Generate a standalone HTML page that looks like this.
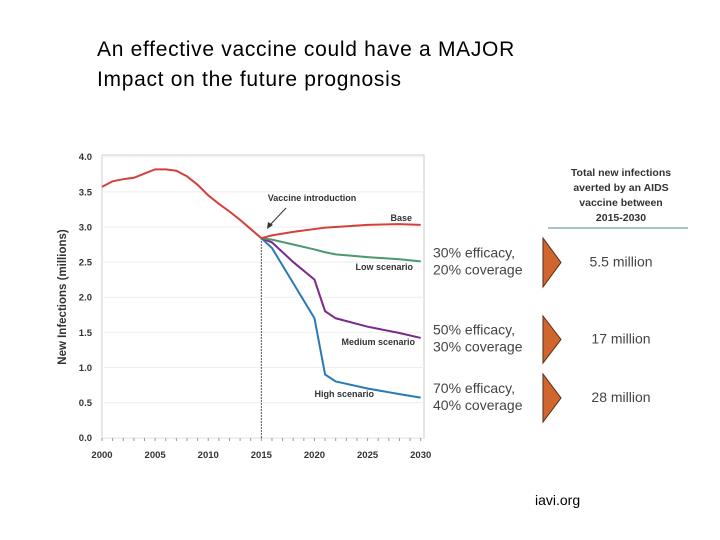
<!DOCTYPE html>
<html><head><meta charset="utf-8"><style>
body{margin:0;width:720px;height:540px;background:#fff;overflow:hidden;font-family:"Liberation Sans",sans-serif}
.t{position:absolute;left:97px;font-size:21px;letter-spacing:0.7px;color:#000;line-height:30px}
</style></head><body>
<div class="t" style="top:35px">An effective vaccine could have a MAJOR<br>Impact on the future prognosis</div>
<svg id="c" width="720" height="540" style="position:absolute;left:0;top:0"></svg>
<div style="position:absolute;left:535px;top:492px;font-size:14px">iavi.org</div>
<script>
const years=[2000,2001,2002,2003,2004,2005,2006,2007,2008,2009,2010,2011,2012,2013,2014,2015];
const hist=[3.57,3.65,3.68,3.70,3.76,3.82,3.82,3.80,3.72,3.60,3.45,3.33,3.22,3.10,2.97,2.84];
const scenYears=[2015,2016,2018,2020,2021,2022,2025,2028,2030];
const base=[2.84,2.88,2.93,2.97,2.99,3.0,3.03,3.04,3.03];
const low=[2.84,2.82,2.75,2.68,2.64,2.61,2.57,2.54,2.51];
const medium=[2.84,2.78,2.5,2.25,1.8,1.7,1.58,1.49,1.42];
const high=[2.84,2.7,2.2,1.7,0.9,0.8,0.7,0.62,0.57];
const yTicks=[0,0.5,1,1.5,2,2.5,3,3.5,4];
const xTicks=[2000,2005,2010,2015,2020,2025,2030];
const NS="http://www.w3.org/2000/svg",svg=document.getElementById('c');
const x=v=>102+(v-2000)*(420.7-102)/30, y=v=>437.7-v*(437.7-156.7)/4;
function mk(t,a,p){const e=document.createElementNS(NS,t);for(const k in a)e.setAttribute(k,a[k]);(p||svg).appendChild(e);return e;}
function tx(s,a){const e=mk('text',a);e.textContent=s;return e;}
mk('rect',{x:102,y:155,width:322,height:283,fill:'none',stroke:'#ccc'});
yTicks.forEach(v=>{
 const g=mk('line',{x1:102,x2:424,y1:y(v),y2:y(v),stroke:'#eee'});
 
 const t=tx(v.toFixed(1),{x:92,y:y(v)+3.5,'font-size':9.5,'font-weight':'bold','text-anchor':'end',fill:'#333'});
 
});
for(let yr=2000;yr<=2030;yr++)mk('line',{x1:x(yr),x2:x(yr),y1:438,y2:441,stroke:'#999'});
xTicks.forEach(v=>{const t=tx(String(v),{x:x(v),y:458,'font-size':9.5,'font-weight':'bold','text-anchor':'middle',fill:'#333'});
 });
const yt=tx('New Infections (millions)',{x:0,y:0,'font-size':11.5,'font-weight':'bold',fill:'#333','text-anchor':'middle',transform:'translate(66,297) rotate(-90)'});

mk('line',{x1:x(2015),x2:x(2015),y1:y(2.84),y2:438,stroke:'#222','stroke-dasharray':'1.5,1.5'});
function line(xs,ys,c,n){const p=mk('polyline',{points:xs.map((v,i)=>x(v)+','+y(ys[i])).join(' '),fill:'none',stroke:c,'stroke-width':2});
 }
line(scenYears,high,'#2a7ab8','high-scenario-line');
line(scenYears,medium,'#7a2a8a','medium-scenario-line');
line(scenYears,low,'#4a9a6a','low-scenario-line');
line(scenYears,base,'#d6403a','base-line');
line(years,hist,'#d6403a','historical-line');
const lb=[['Vaccine introduction',312,201,'middle'],['Base',412,221,'end'],['Low scenario',413,270,'end'],['Medium scenario',415,345,'end'],['High scenario',374,397,'end']];
lb.forEach(l=>{const t=tx(l[0],{x:l[1],y:l[2],'font-size':9,'font-weight':'bold',fill:'#333','text-anchor':l[3]});
 });
mk('line',{x1:286,y1:208,x2:270,y2:225,stroke:'#333'});
mk('polygon',{points:'267,229 268,222 273,225',fill:'#333'});
const hd=['Total new infections','averted by an AIDS','vaccine between','2015-2030'];
hd.forEach((s,i)=>{const t=tx(s,{x:621,y:176+i*15,'font-size':10.5,'font-weight':'bold','text-anchor':'middle',fill:'#333'});
 });
mk('line',{x1:548,x2:688,y1:228,y2:228,stroke:'#4a8aaa'});
const rows=[['30% efficacy,','20% coverage','5.5 million',238,287],['50% efficacy,','30% coverage','17 million',316,363],['70% efficacy,','40% coverage','28 million',374,422]];
rows.forEach(r=>{const m=(r[3]+r[4])/2;
 const a=tx(r[0],{x:433,y:m-5,'font-size':14,fill:'#444'});
 const b=tx(r[1],{x:433,y:m+12,'font-size':14,fill:'#444'});
 const p=mk('polygon',{points:`543,${r[3]} 561,${m} 543,${r[4]}`,fill:'#d0662e',stroke:'#5a2a10'});
 const v=tx(r[2],{x:621,y:m+4,'font-size':14,fill:'#444','text-anchor':'middle'});
});
</script>
</body></html>
